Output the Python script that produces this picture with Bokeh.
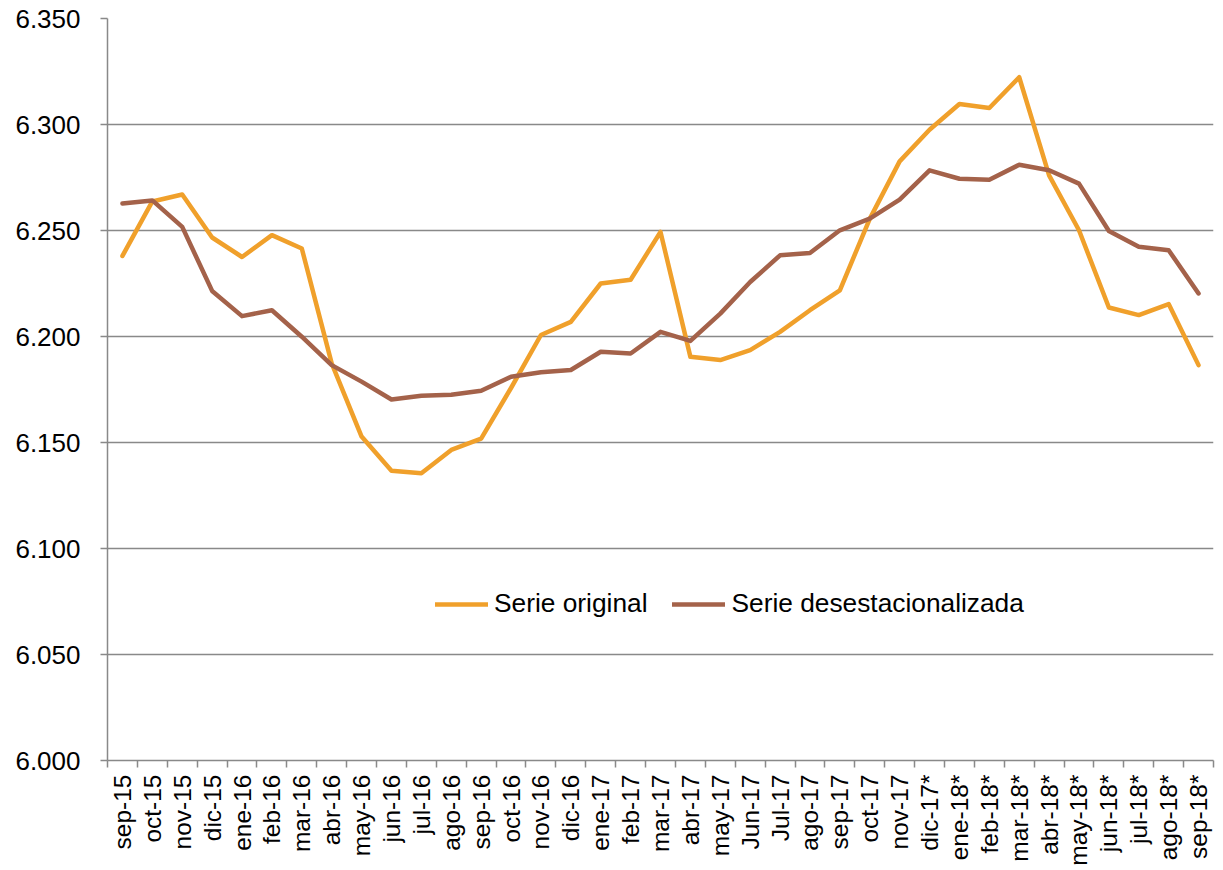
import math
from bokeh.plotting import figure
from bokeh.models import FixedTicker, NumeralTickFormatter, Range1d, Legend, LegendItem, ColumnDataSource
from bokeh.embed import file_html
from bokeh.resources import INLINE

categories = ["sep-15", "oct-15", "nov-15", "dic-15", "ene-16", "feb-16", "mar-16", "abr-16",
              "may-16", "jun-16", "jul-16", "ago-16", "sep-16", "oct-16", "nov-16", "dic-16",
              "ene-17", "feb-17", "mar-17", "abr-17", "may-17", "Jun-17", "Jul-17", "ago-17",
              "sep-17", "oct-17", "nov-17", "dic-17*", "ene-18*", "feb-18*", "mar-18*", "abr-18*",
              "may-18*", "jun-18*", "jul-18*", "ago-18*", "sep-18*"]

serie_original = [6.238, 6.2637, 6.267, 6.2467, 6.2375, 6.2478, 6.2415, 6.1873,
                  6.1528, 6.1367, 6.1355, 6.1465, 6.1518, 6.1757, 6.2007, 6.2069,
                  6.2250, 6.2268, 6.2493, 6.1904, 6.1889, 6.1936, 6.2022, 6.2124,
                  6.2218, 6.2555, 6.2826, 6.2975, 6.3097, 6.3078, 6.3223, 6.2760,
                  6.2501, 6.2137, 6.2101, 6.2153, 6.1865]

serie_desest = [6.2627, 6.2642, 6.2517, 6.2215, 6.2096, 6.2124, 6.1999, 6.1865,
                6.1787, 6.1703, 6.1721, 6.1725, 6.1744, 6.1810, 6.1831, 6.1842,
                6.1928, 6.1920, 6.2022, 6.1979, 6.2108, 6.2257, 6.2383, 6.2394,
                6.2501, 6.2556, 6.2646, 6.2784, 6.2744, 6.2739, 6.2810, 6.2784,
                6.2721, 6.2498, 6.2423, 6.2407, 6.2203]

y_ticks = [6.000, 6.050, 6.100, 6.150, 6.200, 6.250, 6.300, 6.350]

FONT = "Liberation Sans"
GRAY = "#898989"
ORANGE = "#F0A02B"
BROWN = "#A4624A"

x = list(range(len(categories)))
src = ColumnDataSource(data=dict(x=x, orig=serie_original, des=serie_desest))

W, H = 1220, 868
p = figure(width=W, height=H, output_backend="svg", toolbar_location=None,
           x_range=Range1d(-0.5, len(categories) - 0.5),
           y_range=Range1d(y_ticks[0], y_ticks[-1]),
           min_border_left=107, min_border_right=W - 1213,
           min_border_top=18, min_border_bottom=H - 761)
p.outline_line_color = None
p.background_fill_color = "white"

r1 = p.line("x", "orig", source=src, line_color=ORANGE, line_width=4.5,
            line_cap="round", line_join="round")
r2 = p.line("x", "des", source=src, line_color=BROWN, line_width=4.5,
            line_cap="round", line_join="round")

# x axis
p.xaxis.ticker = FixedTicker(ticks=x, minor_ticks=[i - 0.5 for i in range(len(categories) + 1)])
p.xaxis.major_label_overrides = {i: c for i, c in enumerate(categories)}
p.xaxis.major_label_orientation = math.pi / 2
p.xaxis.major_tick_line_color = None
p.xaxis.minor_tick_line_color = GRAY
p.xaxis.minor_tick_line_width = 1.5
p.xaxis.minor_tick_out = 7
p.xaxis.minor_tick_in = 0
p.xaxis.axis_line_color = GRAY
p.xaxis.axis_line_width = 1.5
p.xaxis.major_label_text_font = FONT
p.xaxis.major_label_text_font_size = "24.5px"
p.xaxis.major_label_text_color = "black"
p.xaxis.major_label_standoff = 7

# y axis
p.yaxis.ticker = FixedTicker(ticks=y_ticks)
p.yaxis.formatter = NumeralTickFormatter(format="0.000")
p.yaxis.minor_tick_line_color = None
p.yaxis.major_tick_line_color = GRAY
p.yaxis.major_tick_line_width = 1.5
p.yaxis.major_tick_out = 7
p.yaxis.major_tick_in = 0
p.yaxis.axis_line_color = GRAY
p.yaxis.axis_line_width = 1.5
p.yaxis.major_label_text_font = FONT
p.yaxis.major_label_text_font_size = "26px"
p.yaxis.major_label_text_color = "black"
p.yaxis.major_label_standoff = 20

p.xgrid.grid_line_color = None
p.ygrid.grid_line_color = GRAY
p.ygrid.grid_line_width = 1.5

legend = Legend(items=[LegendItem(label="Serie original", renderers=[r1]),
                       LegendItem(label="Serie desestacionalizada", renderers=[r2])],
                orientation="horizontal", location=(328, 141),
                glyph_width=53, glyph_height=20, label_standoff=6, spacing=25,
                padding=0, margin=0, border_line_color=None, background_fill_alpha=0,
                label_text_font=FONT, label_text_font_size="26.3px", label_text_color="black")
p.add_layout(legend, "center")

open("out.html", "w").write(file_html(p, INLINE))
